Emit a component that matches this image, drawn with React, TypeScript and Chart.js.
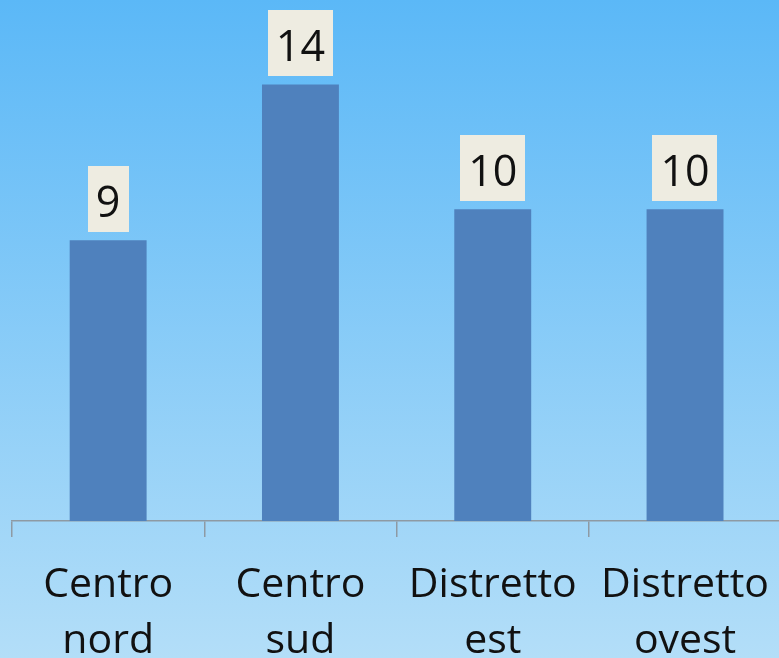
import React, { useEffect, useRef } from "react";
import { Chart, registerables } from "chart.js";

Chart.register(...registerables);

const categories: string[][] = [
  ["Centro", "nord"],
  ["Centro", "sud"],
  ["Distretto", "est"],
  ["Distretto", "ovest"],
];
const values: number[] = [9, 14, 10, 10];
const yMax = 16;

const FONT = "'Open Sans', 'Noto Sans', sans-serif";

const valueLabelPlugin = {
  id: "valueLabels",
  afterDatasetsDraw(chart: any) {
    const ctx = chart.ctx;
    const meta = chart.getDatasetMeta(0);
    const data = chart.data.datasets[0].data as number[];
    ctx.save();
    ctx.font = `43px ${FONT}`;
    ctx.textAlign = "center";
    ctx.textBaseline = "alphabetic";
    meta.data.forEach((bar: any, i: number) => {
      const text = String(data[i]);
      const w = ctx.measureText(text).width + 16;
      const h = 66;
      const bottom = bar.y - 8;
      const top = bottom - h;
      ctx.fillStyle = "#EEECE1";
      ctx.fillRect(Math.round(bar.x - w / 2), Math.round(top), Math.round(w), h);
      ctx.fillStyle = "#111111";
      ctx.fillText(text, bar.x, top + 51);
    });
    ctx.restore();
  },
};

export default function App() {
  const canvasRef = useRef<HTMLCanvasElement | null>(null);

  useEffect(() => {
    document.body.style.overflow = "hidden";
    document.documentElement.style.overflow = "hidden";
    const canvas = canvasRef.current;
    if (!canvas) return;
    const chart = new Chart(canvas, {
      type: "bar",
      data: {
        labels: categories,
        datasets: [
          {
            data: values,
            backgroundColor: "#4F81BD",
            borderWidth: 0,
            categoryPercentage: 0.4,
            barPercentage: 1,
          },
        ],
      },
      options: {
        responsive: false,
        animation: false,
        devicePixelRatio: 1,
        layout: { padding: { left: 12, right: 0, top: 22, bottom: 0 } },
        plugins: {
          legend: { display: false },
          tooltip: { enabled: false },
          title: { display: false },
        },
        scales: {
          x: {
            offset: true,
            grid: {
              display: true,
              offset: true,
              drawOnChartArea: false,
              drawTicks: true,
              tickLength: 16,
              color: "#8E9AA3",
              lineWidth: 1.5,
            },
            border: { display: true, color: "#8E9AA3", width: 1.5 },
            ticks: {
              color: "#111111",
              font: { family: FONT, size: 41, lineHeight: 1.37 },
              padding: 20,
              maxRotation: 0,
              minRotation: 0,
              autoSkip: false,
            },
            afterFit(scale: any) {
              scale.height = 137;
            },
          },
          y: {
            display: false,
            min: 0,
            max: yMax,
          },
        },
      },
      plugins: [valueLabelPlugin],
    });
    return () => chart.destroy();
  }, []);

  return (
    <div
      style={{
        position: "fixed",
        left: 0,
        top: 0,
        width: 789,
        height: 658,
        background: "linear-gradient(to bottom, #5BB8F7 0%, #B3DEF8 100%)",
        overflow: "hidden",
      }}
    >
      <canvas ref={canvasRef} width={789} height={658} style={{ display: "block" }} />
    </div>
  );
}
